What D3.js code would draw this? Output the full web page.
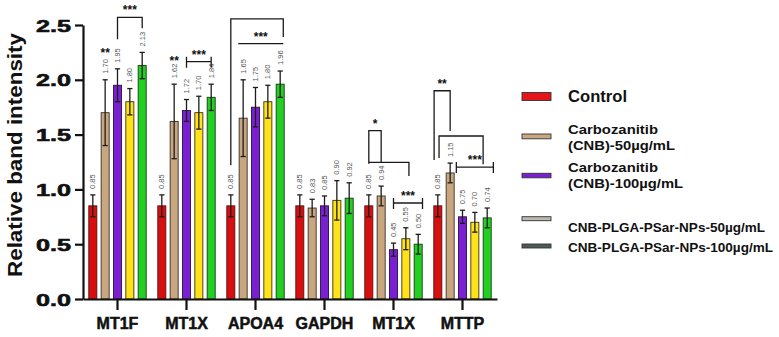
<!DOCTYPE html>
<html>
<head>
<meta charset="utf-8">
<script src="https://cdn.jsdelivr.net/npm/d3@7/dist/d3.min.js"></script>
<style>
  html, body { margin: 0; padding: 0; background: #fff; }
  svg { display: block; }
</style>
</head>
<body>
<svg id="chart" width="779" height="337"></svg>
<script>
// ---------- data ----------
const categories = ["MT1F", "MT1X", "APOA4", "GAPDH", "MT1X", "MTTP"];
const seriesNames = ["Control", "Carbozanitib (CNB)-50µg/mL", "Carbozanitib (CNB)-100µg/mL",
                     "CNB-PLGA-PSar-NPs-50µg/mL", "CNB-PLGA-PSar-NPs-100µg/mL"];
const control    = [0.85, 0.85, 0.85, 0.85, 0.85, 0.85];
const cnb50      = [1.70, 1.62, 1.65, 0.83, 0.94, 1.15];
const cnb100     = [1.95, 1.72, 1.75, 0.85, 0.45, 0.75];
const np50       = [1.80, 1.70, 1.80, 0.90, 0.55, 0.70];
const np100      = [2.13, 1.84, 1.96, 0.92, 0.50, 0.74];
const controlErr = [0.10, 0.10, 0.10, 0.10, 0.10, 0.10];
const cnb50Err   = [0.30, 0.34, 0.35, 0.08, 0.09, 0.09];
const cnb100Err  = [0.15, 0.10, 0.18, 0.09, 0.06, 0.06];
const np50Err    = [0.12, 0.15, 0.15, 0.18, 0.10, 0.09];
const np100Err   = [0.12, 0.12, 0.12, 0.14, 0.09, 0.09];
const yTicks     = [0, 0.5, 1.0, 1.5, 2.0, 2.5];

// significance annotations (group index, bar index span, heights in data units)
const capBrackets = [
  { g: 0, k1: 2,    k2: 4,    top: 2.57,  y1: 2.37,  y2: 2.47,  text: "***" },
  { g: 2, k1: 0,    k2: 4.25, top: 2.555, y1: 1.22,  y2: 2.39,  text: "" },
  { g: 4, k1: 0,    k2: 1,    top: 1.536, y1: 1.247, y2: 1.247, text: "*" },
  { g: 4, k1: 0,    k2: 3.25, top: 1.247, y1: 1.235, y2: 1.122, text: "" },
  { g: 5, k1: -0.3, k2: 1,    top: 1.90,  y1: 1.268, y2: 1.533, text: "**" },
  { g: 5, k1: 0.1,  k2: 3.67, top: 1.487, y1: 1.287, y2: 1.23,  text: "" }
];
const rangeBrackets = [
  { g: 1, k1: 2,   k2: 4,    y: 2.165, text: "***" },
  { g: 4, k1: 2,   k2: 4.35, y: 0.876, text: "***" },
  { g: 5, k1: 1.5, k2: 4.5,  y: 1.204, text: "***" }
];
const lineBrackets = [
  { g: 2, k1: 0.6, k2: 4.25, y: 2.33, text: "***" }
];
const starLabels = [
  { g: 0, k: 1, y: 2.27, text: "**" },
  { g: 1, k: 1, y: 2.20, text: "**" }
];

// ---------- styles ----------
const barColors    = ["#d70f0f", "#c8a680", "#7a1fd2", "#ffe21a", "#22d022"];
const barStrokes   = ["#5a1010", "#3a3028", "#2a1040", "#3a3510", "#1a3a1a"];
const legendColors = ["#e5141b", "#c8a882", "#7a1fd2", "#bdb8ae", "#4e5a57"];
const FONT = "'Liberation Sans', Arial, Helvetica, sans-serif";

const svg = d3.select("#chart");
const seriesVals = [control, cnb50, cnb100, np50, np100];
const seriesErrs = [controlErr, cnb50Err, cnb100Err, np50Err, np100Err];

// ---------- scales ----------
const x0 = d3.scaleBand().domain(d3.range(categories.length)).range([83, 497]).padding(0);
const x1 = d3.scaleBand().domain(d3.range(seriesNames.length)).range([0, x0.bandwidth()])
  .paddingInner(0.35).paddingOuter(0.47);
const y = d3.scaleLinear().domain([0, 2.5]).range([299, 25]);

const cx = (g, k) => x0(g) + x1(0) + x1.bandwidth() / 2 + k * x1.step();

// ---------- bars ----------
const rows = [];
categories.forEach((c, g) => {
  seriesVals.forEach((arr, k) => {
    rows.push({ g, k, v: arr[g], e: seriesErrs[k][g] });
  });
});

const gBars = svg.append("g");
gBars.selectAll("rect").data(rows).join("rect")
  .attr("x", d => x0(d.g) + x1(d.k))
  .attr("y", d => y(d.v))
  .attr("width", x1.bandwidth())
  .attr("height", d => y(0) - y(d.v))
  .attr("fill", d => barColors[d.k])
  .attr("stroke", d => barStrokes[d.k])
  .attr("stroke-width", 0.9);

// error bars
const capW = 2.6;
const gErr = svg.append("g").attr("stroke", "#1c1c1c").attr("stroke-width", 1.3).attr("fill", "none");
rows.forEach(d => {
  const xc = cx(d.g, d.k);
  gErr.append("line").attr("x1", xc).attr("x2", xc).attr("y1", y(d.v + d.e)).attr("y2", y(d.v - d.e));
  gErr.append("line").attr("x1", xc - capW).attr("x2", xc + capW).attr("y1", y(d.v + d.e)).attr("y2", y(d.v + d.e));
  gErr.append("line").attr("x1", xc - capW).attr("x2", xc + capW).attr("y1", y(d.v - d.e)).attr("y2", y(d.v - d.e));
});

// value labels (rotated)
svg.append("g").selectAll("text").data(rows).join("text")
  .attr("transform", d => `translate(${cx(d.g, d.k) + 2.6},${y(d.v + d.e) - 6}) rotate(-90)`)
  .attr("font-family", FONT).attr("font-size", 7.5).attr("fill", "#555")
  .attr("text-anchor", "start")
  .text(d => d.v.toFixed(2));

// ---------- significance ----------
const gSig = svg.append("g").attr("stroke", "#1a1a1a").attr("stroke-width", 1.3).attr("fill", "none");
const sigText = (xm, ypx, t) => svg.append("text")
  .attr("x", xm).attr("y", ypx + 2)
  .attr("text-anchor", "middle").attr("font-family", FONT)
  .attr("font-size", 12).attr("font-weight", "bold").attr("fill", "#111").text(t);

capBrackets.forEach(b => {
  const xa = cx(b.g, b.k1), xb = cx(b.g, b.k2);
  gSig.append("path").attr("d",
    `M${xa},${y(b.y1)}V${y(b.top)}H${xb}V${y(b.y2)}`);
  if (b.text) sigText((xa + xb) / 2, y(b.top) - 5, b.text);
});
rangeBrackets.forEach(b => {
  const xa = cx(b.g, b.k1), xb = cx(b.g, b.k2), yy = y(b.y);
  gSig.append("path").attr("d",
    `M${xa},${yy - 5}V${yy + 6}M${xa},${yy}H${xb}M${xb},${yy - 5}V${yy + 6}`);
  sigText((xa + xb) / 2, yy - 5, b.text);
});
lineBrackets.forEach(b => {
  const xa = cx(b.g, b.k1), xb = cx(b.g, b.k2), yy = y(b.y);
  gSig.append("path").attr("d", `M${xa},${yy}H${xb}`);
  sigText((xa + xb) / 2, yy - 5, b.text);
});
starLabels.forEach(s => {
  svg.append("text").attr("x", cx(s.g, s.k)).attr("y", y(s.y) + 7)
    .attr("text-anchor", "middle").attr("font-family", FONT)
    .attr("font-size", 12).attr("font-weight", "bold").attr("fill", "#111").text(s.text);
});

// ---------- axes ----------
const yAxis = svg.append("g").attr("transform", "translate(83,0)")
  .call(d3.axisLeft(y).tickValues(yTicks).tickFormat(d3.format(".1f")).tickSize(8).tickSizeOuter(0).tickPadding(4));
yAxis.select(".domain").attr("stroke", "#111").attr("stroke-width", 2.2);
yAxis.selectAll(".tick line").attr("stroke", "#111").attr("stroke-width", 2.2);
yAxis.selectAll(".tick text")
  .attr("font-family", FONT).attr("font-size", 17).attr("font-weight", 900).attr("fill", "#111")
  .attr("stroke", "#111").attr("stroke-width", 0.6)
  .attr("dy", "0.36em")
  .attr("textLength", 35).attr("lengthAdjust", "spacingAndGlyphs");

const xAxis = svg.append("g").attr("transform", "translate(0,299)")
  .call(d3.axisBottom(x0).tickFormat(i => categories[i]).tickSize(11).tickSizeOuter(0).tickPadding(8));
xAxis.select(".domain").attr("stroke", "#111").attr("stroke-width", 2.2);
xAxis.selectAll(".tick line").attr("stroke", "#111").attr("stroke-width", 2.2);
xAxis.selectAll(".tick text")
  .attr("font-family", FONT).attr("font-size", 16).attr("font-weight", "bold").attr("fill", "#111")
  .attr("stroke", "#111").attr("stroke-width", 0.5);

// y title
svg.append("text")
  .attr("transform", "translate(22,155) rotate(-90)")
  .attr("text-anchor", "middle").attr("font-family", FONT)
  .attr("font-size", 21).attr("font-weight", "bold").attr("fill", "#111")
  .attr("textLength", 244).attr("lengthAdjust", "spacingAndGlyphs")
  .text("Relative band intensity");

// ---------- legend ----------
const legendItems = [
  { lines: ["Control"], base: [102.3], len: [59], size: 16, sw: [92.5, 8] },
  { lines: ["Carbozanitib", "(CNB)-50µg/mL"], base: [134.3, 149.5], len: [90, 107], size: 13.4, sw: [134, 4.8] },
  { lines: ["Carbozanitib", "(CNB)-100µg/mL"], base: [172.3, 187.5], len: [90, 115], size: 13.4, sw: [173.3, 4.5] },
  { lines: ["CNB-PLGA-PSar-NPs-50µg/mL"], base: [231.7], len: [197], size: 13, sw: [216.7, 4] },
  { lines: ["CNB-PLGA-PSar-NPs-100µg/mL"], base: [251.7], len: [205], size: 13, sw: [244, 4] }
];
const gLeg = svg.append("g");
legendItems.forEach((it, i) => {
  gLeg.append("rect").attr("x", 522).attr("y", it.sw[0]).attr("width", 29).attr("height", it.sw[1])
    .attr("fill", legendColors[i]).attr("stroke", "#333").attr("stroke-width", 0.9);
  it.lines.forEach((line, j) => {
    gLeg.append("text").attr("x", 568).attr("y", it.base[j])
      .attr("font-family", FONT).attr("font-size", it.size).attr("font-weight", "bold")
      .attr("fill", "#111")
      .attr("textLength", it.len[j]).attr("lengthAdjust", "spacingAndGlyphs")
      .text(line);
  });
});
</script>
</body>
</html>
